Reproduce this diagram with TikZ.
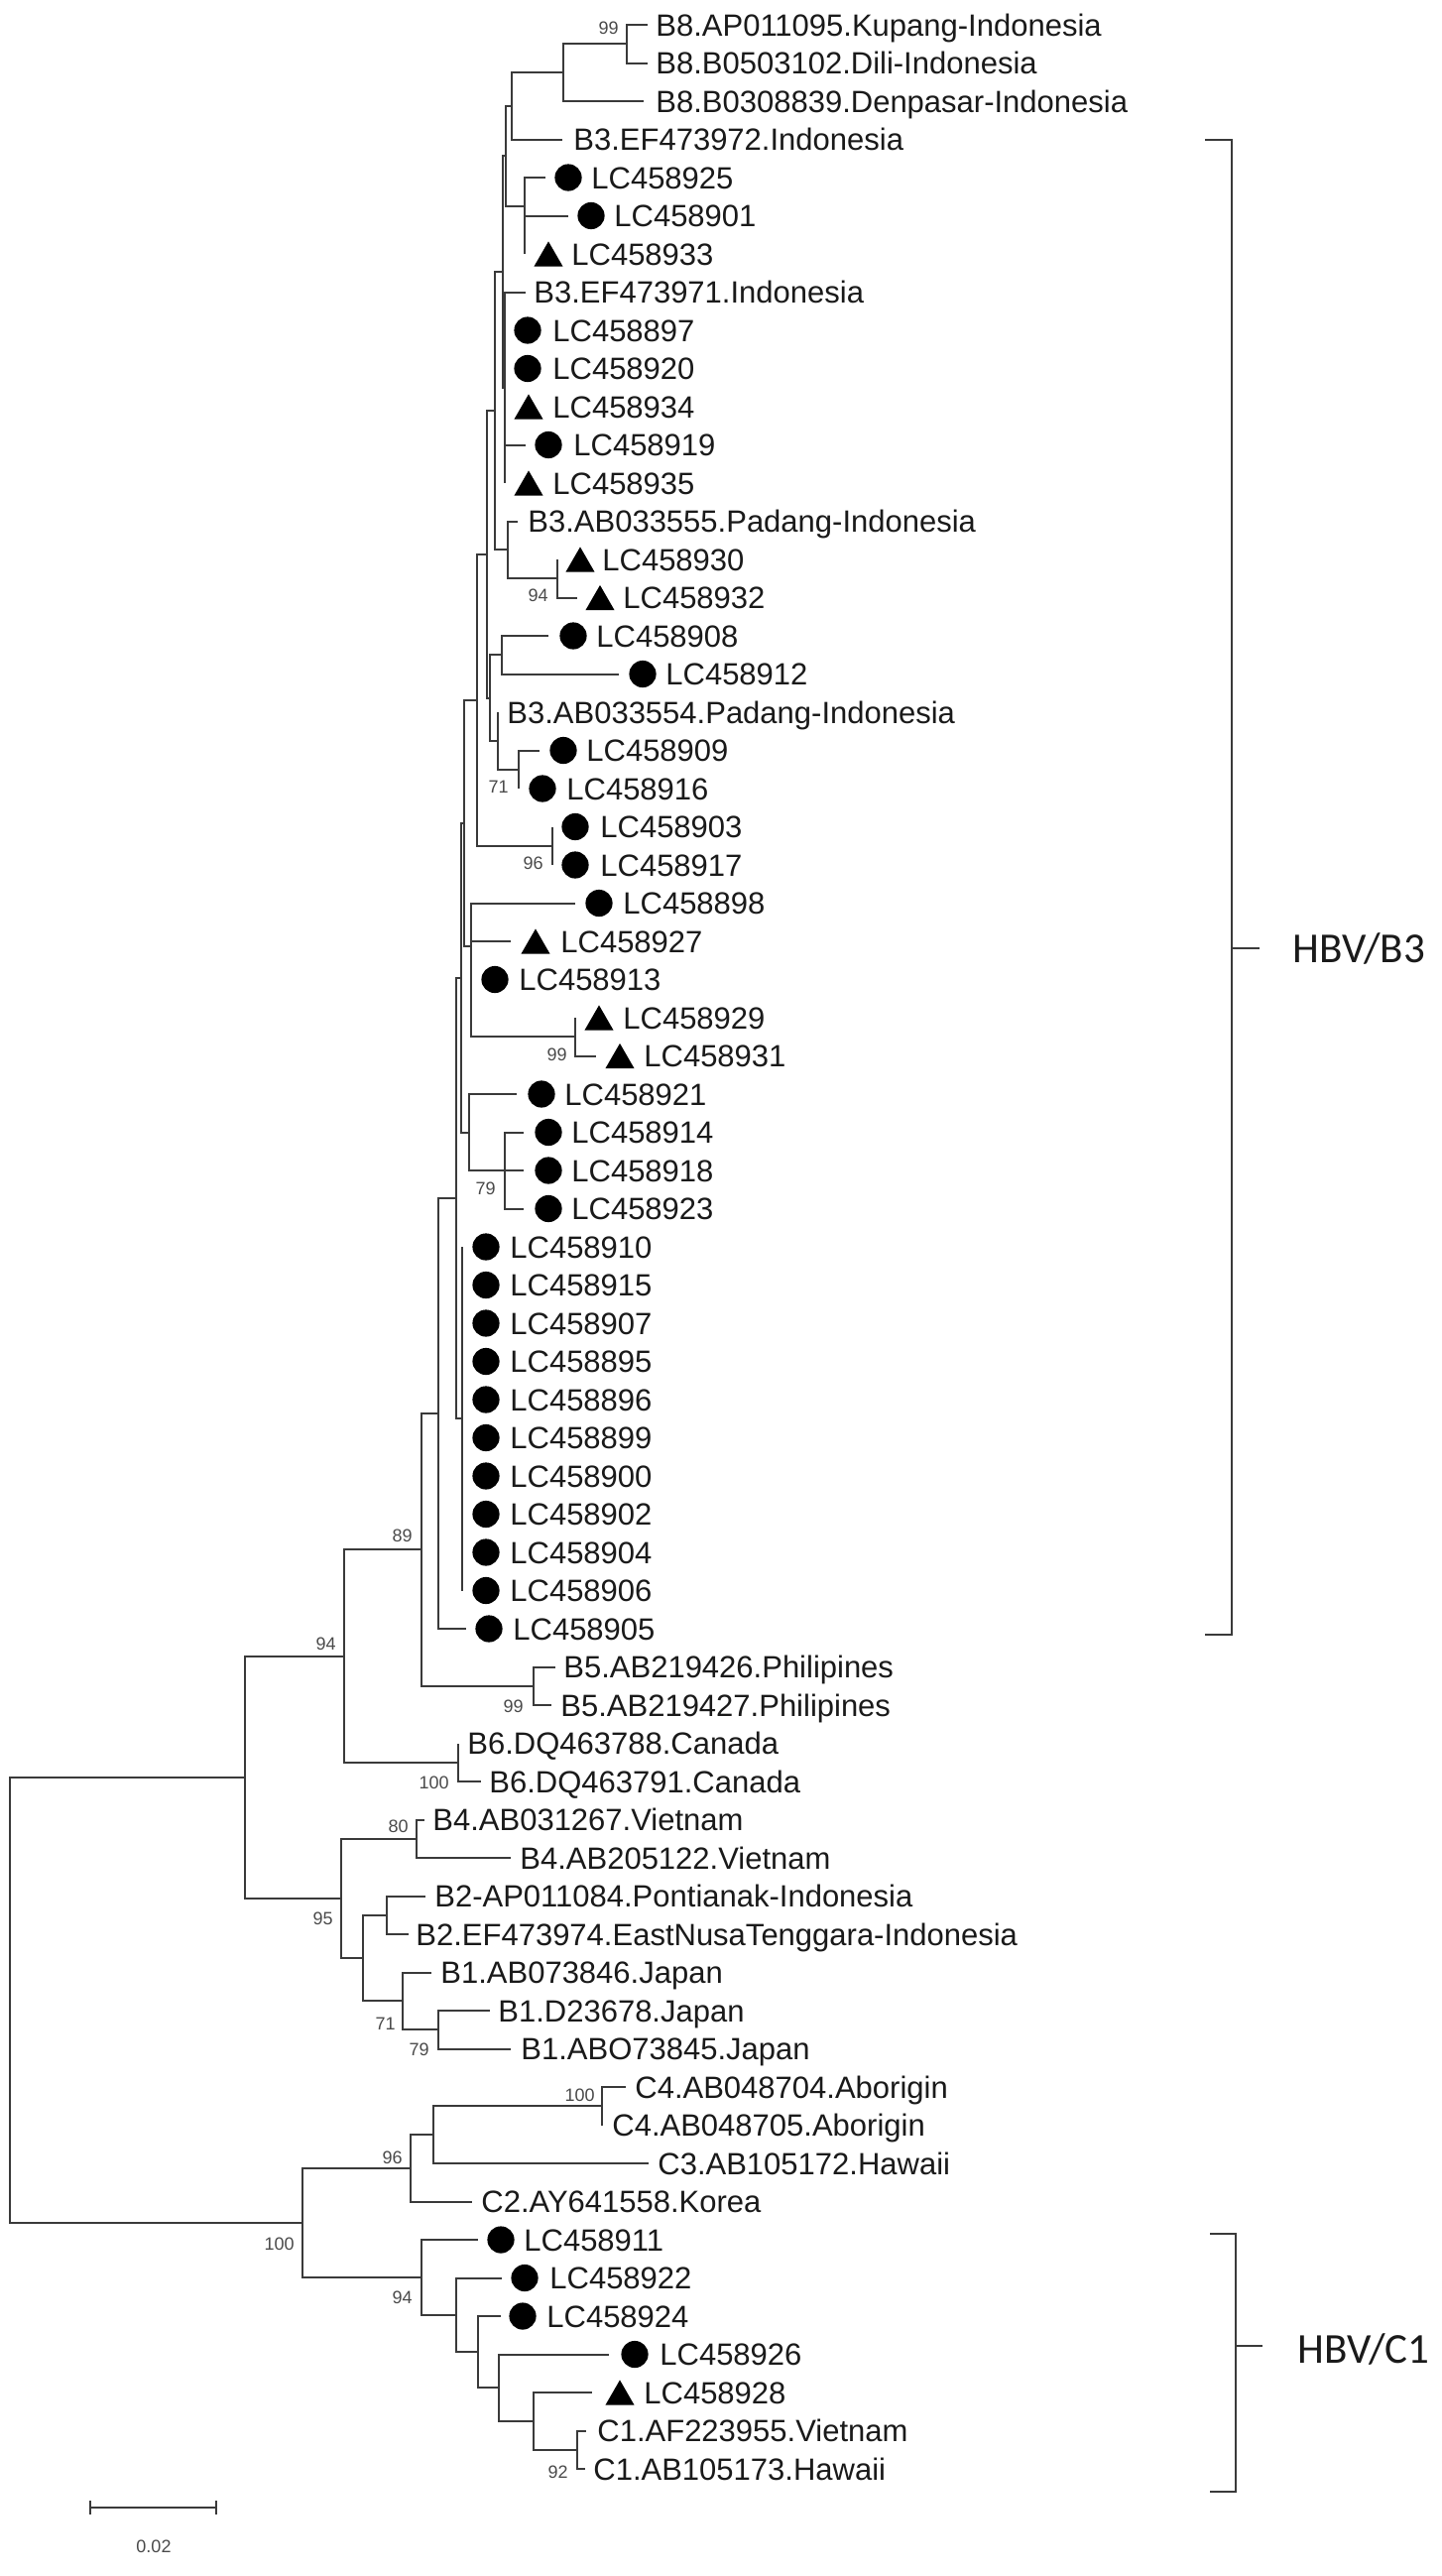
\documentclass[tikz,border=0pt]{standalone}
\usepackage{fontspec}
\setmainfont{Liberation Sans}
\newfontfamily\calib{Carlito}
\usetikzlibrary{shapes.geometric}
\definecolor{linegray}{HTML}{3A3A3A}
\definecolor{txt}{HTML}{1A1A1A}
\definecolor{bootc}{HTML}{4A4A4A}
\newcommand\leaff{\fontsize{15.5pt}{18pt}\selectfont}
\newcommand\bootf{\fontsize{9pt}{11pt}\selectfont}
\newcommand\cladef{\calib\fontsize{21.5pt}{26pt}\selectfont}
\newcommand\LfC[6]{\coordinate (e#1) at (#3,#2); \node[dot] (m#1) at (#4,#2) {}; \node[leaf] (t#1) at (#5,#2) {#6};}
\newcommand\LfT[6]{\coordinate (e#1) at (#3,#2); \node[tri] (m#1) at (#4,#2) {}; \node[leaf] (t#1) at (#5,#2) {#6};}
\newcommand\LfL[5]{\coordinate (e#1) at (#3,#2); \node[leaf] (t#1) at (#4,#2) {#5};}
\begin{document}
\begin{tikzpicture}[x=0.5pt,y=-0.5pt,
  br/.style={draw=linegray,line width=1pt},
  leaf/.style={font=\leaff,text=txt,anchor=west,inner sep=0pt,text height=11.1pt,text depth=0pt},
  boot/.style={font=\bootf,text=bootc,anchor=east,inner sep=0pt,text height=6.5pt,text depth=0pt},
  dot/.style={circle,fill=black,inner sep=0pt,minimum size=13.6pt},
  tri/.style={regular polygon,regular polygon sides=3,fill=black,inner sep=0pt,minimum size=16.8pt,yshift=-2.1pt},
  brk/.style={draw=linegray,line width=1.4pt},
  clade/.style={font=\cladef,text=txt,anchor=west,inner sep=0pt}]
\fill[white] (0,0) rectangle (1453,2597);
\useasboundingbox (0,0) rectangle (1453,2597);

% ---- internal nodes
\coordinate (root) at (10,2016.3);
\coordinate (nBr) at (247,1791.75);
\coordinate (n94) at (347,1669.6);
\coordinate (n89) at (425,1562.4);
\coordinate (nP) at (442,1425);
\coordinate (nQ) at (460,1207.95);
\coordinate (nS) at (465,985.65);
\coordinate (nM) at (468,829.8);
\coordinate (nK) at (481,705.8);
\coordinate (nJ) at (491,558.9);
\coordinate (nI) at (499,414.2);
\coordinate (nG) at (507,274.1);
\coordinate (nD) at (510,157.4);
\coordinate (nC) at (516,106.8);
\coordinate (nB) at (568,73.1);
\coordinate (nA) at (632,44.25);
\coordinate (nF) at (529,208);
\coordinate (nH) at (509,390.75);
\coordinate (nh) at (512,554.4);
\coordinate (n94a) at (562,583.25);
\coordinate (nN) at (494,703.6);
\coordinate (nL) at (506,660.25);
\coordinate (nO) at (502,746.9);
\coordinate (n71a) at (523,775.75);
\coordinate (n96a) at (557,852.75);
\coordinate (nV) at (475,953.8);
\coordinate (nV2) at (475,997.1);
\coordinate (nW) at (580,1045.25);
\coordinate (nT) at (473,1141.5);
\coordinate (nU) at (509,1180);
\coordinate (nR) at (466,1430.25);
\coordinate (nB5) at (538,1699.75);
\coordinate (nB6) at (462,1776.75);
\coordinate (n95) at (344,1913.9);
\coordinate (nB4) at (420,1853.75);
\coordinate (nB12) at (366,1974.1);
\coordinate (nB2) at (390,1930.75);
\coordinate (nB1) at (406,2017.4);
\coordinate (nB1s) at (442,2046.25);
\coordinate (nCr) at (305,2240.9);
\coordinate (n96C) at (414,2185.8);
\coordinate (nC43) at (437,2152.1);
\coordinate (nC4) at (607,2123.25);
\coordinate (n94C) at (425,2295.9);
\coordinate (nn1) at (460,2333.8);
\coordinate (nn2) at (482,2371.1);
\coordinate (nn3) at (503,2407.2);
\coordinate (nn4) at (538,2440.9);
\coordinate (nC1) at (582,2469.75);

% ---- leaves
\LfL{1}{25}{653}{661}{B8.AP011095.Kupang-Indonesia}
\LfL{2}{63.5}{653}{661}{B8.B0503102.Dili-Indonesia}
\LfL{3}{102}{649}{661}{B8.B0308839.Denpasar-Indonesia}
\LfL{4}{140.5}{567}{578}{B3.EF473972.Indonesia}
\LfC{5}{179}{550}{573}{596}{LC458925}
\LfC{6}{217.5}{573}{596}{619}{LC458901}
\LfT{7}{256}{529}{553}{576}{LC458933}
\LfL{8}{294.5}{530}{538}{B3.EF473971.Indonesia}
\LfC{9}{333}{509}{532}{557}{LC458897}
\LfC{10}{371.5}{509}{532}{557}{LC458920}
\LfT{11}{410}{509}{533}{557}{LC458934}
\LfC{12}{448.5}{530}{553}{578}{LC458919}
\LfT{13}{487}{509}{533}{557}{LC458935}
\LfL{14}{525.5}{522}{532}{B3.AB033555.Padang-Indonesia}
\LfT{15}{564}{562}{585}{607}{LC458930}
\LfT{16}{602.5}{582}{605}{628}{LC458932}
\LfC{17}{641}{553}{578}{601}{LC458908}
\LfC{18}{679.5}{624}{648}{671}{LC458912}
\LfL{19}{718}{502}{511}{B3.AB033554.Padang-Indonesia}
\LfC{20}{756.5}{544}{568}{591}{LC458909}
\LfC{21}{795}{523}{547}{571}{LC458916}
\LfC{22}{833.5}{557}{580}{605}{LC458903}
\LfC{23}{872}{557}{580}{605}{LC458917}
\LfC{24}{910.5}{580}{604}{628}{LC458898}
\LfT{25}{949}{515}{540}{565}{LC458927}
\LfC{26}{987.5}{475}{499}{523}{LC458913}
\LfT{27}{1026}{580}{604}{628}{LC458929}
\LfT{28}{1064.5}{601}{625}{649}{LC458931}
\LfC{29}{1103}{521}{546}{569}{LC458921}
\LfC{30}{1141.5}{528}{553}{576}{LC458914}
\LfC{31}{1180}{528}{553}{576}{LC458918}
\LfC{32}{1218.5}{528}{553}{576}{LC458923}
\LfC{33}{1257}{466}{490}{514}{LC458910}
\LfC{34}{1295.5}{466}{490}{514}{LC458915}
\LfC{35}{1334}{466}{490}{514}{LC458907}
\LfC{36}{1372.5}{466}{490}{514}{LC458895}
\LfC{37}{1411}{466}{490}{514}{LC458896}
\LfC{38}{1449.5}{466}{490}{514}{LC458899}
\LfC{39}{1488}{466}{490}{514}{LC458900}
\LfC{40}{1526.5}{466}{490}{514}{LC458902}
\LfC{41}{1565}{466}{490}{514}{LC458904}
\LfC{42}{1603.5}{466}{490}{514}{LC458906}
\LfC{43}{1642}{470}{493}{517}{LC458905}
\LfL{44}{1680.5}{560}{568}{B5.AB219426.Philipines}
\LfL{45}{1719}{556}{565}{B5.AB219427.Philipines}
\LfL{46}{1757.5}{462}{471}{B6.DQ463788.Canada}
\LfL{47}{1796}{485}{493}{B6.DQ463791.Canada}
\LfL{48}{1834.5}{428}{436}{B4.AB031267.Vietnam}
\LfL{49}{1873}{515}{524}{B4.AB205122.Vietnam}
\LfL{50}{1911.5}{429}{438}{B2-AP011084.Pontianak-Indonesia}
\LfL{51}{1950}{412}{419}{B2.EF473974.EastNusaTenggara-Indonesia}
\LfL{52}{1988.5}{435}{444}{B1.AB073846.Japan}
\LfL{53}{2027}{494}{502}{B1.D23678.Japan}
\LfL{54}{2065.5}{515}{525}{B1.ABO73845.Japan}
\LfL{55}{2104}{631}{640}{C4.AB048704.Aborigin}
\LfL{56}{2142.5}{607}{617}{C4.AB048705.Aborigin}
\LfL{57}{2181}{654}{663}{C3.AB105172.Hawaii}
\LfL{58}{2219.5}{476}{485}{C2.AY641558.Korea}
\LfC{59}{2258}{482}{505}{528}{LC458911}
\LfC{60}{2296.5}{506}{529}{554}{LC458922}
\LfC{61}{2335}{505}{527}{551}{LC458924}
\LfC{62}{2373.5}{614}{640}{665}{LC458926}
\LfT{63}{2412}{597}{625}{649}{LC458928}
\LfL{64}{2450.5}{591}{602}{C1.AF223955.Vietnam}
\LfL{65}{2489}{590}{598}{C1.AB105173.Hawaii}

% ---- branches
\draw[br] (root) |- (nBr); \draw[br] (root) |- (nCr);
\draw[br] (nBr) |- (n94); \draw[br] (nBr) |- (n95);
\draw[br] (n94) |- (n89); \draw[br] (n94) |- (nB6);
\draw[br] (n89) |- (nP); \draw[br] (n89) |- (nB5);
\draw[br] (nP) |- (nQ); \draw[br] (nP) |- (e43);
\draw[br] (nQ) |- (nS); \draw[br] (nQ) |- (nR);
\draw[br] (nS) |- (nM); \draw[br] (nS) |- (nT);
\draw[br] (nM) |- (nK); \draw[br] (nM) |- (nV);
\draw[br] (nK) |- (nJ); \draw[br] (nK) |- (n96a);
\draw[br] (nJ) |- (nI); \draw[br] (nJ) |- (nN);
\draw[br] (nI) |- (nG); \draw[br] (nI) |- (nh);
\draw[br] (nG) |- (nD); \draw[br] (nG) |- (nH);
\draw[br] (nD) |- (nC); \draw[br] (nD) |- (nF);
\draw[br] (nC) |- (nB); \draw[br] (nC) |- (e4);
\draw[br] (nB) |- (nA); \draw[br] (nB) |- (e3);
\draw[br] (nA) |- (e1); \draw[br] (nA) |- (e2);
\foreach \k in {5,6,7} {\draw[br] (nF) |- (e\k);}
\foreach \k in {8,...,13} {\draw[br] (nH) |- (e\k);}
\draw[br] (nh) |- (e14); \draw[br] (nh) |- (n94a);
\draw[br] (n94a) |- (e15); \draw[br] (n94a) |- (e16);
\draw[br] (nN) |- (nL); \draw[br] (nN) |- (nO);
\draw[br] (nL) |- (e17); \draw[br] (nL) |- (e18);
\draw[br] (nO) |- (e19); \draw[br] (nO) |- (n71a);
\draw[br] (n71a) |- (e20); \draw[br] (n71a) |- (e21);
\draw[br] (n96a) |- (e22); \draw[br] (n96a) |- (e23);
\draw[br] (nV) |- (e24); \draw[br] (nV) |- (nV2);
\draw[br] (nV2) |- (e25); \draw[br] (nV2) |- (e26); \draw[br] (nV2) |- (nW);
\draw[br] (nW) |- (e27); \draw[br] (nW) |- (e28);
\draw[br] (nT) |- (e29); \draw[br] (nT) |- (nU);
\foreach \k in {30,31,32} {\draw[br] (nU) |- (e\k);}
\foreach \k in {33,...,42} {\draw[br] (nR) |- (e\k);}
\draw[br] (nB5) |- (e44); \draw[br] (nB5) |- (e45);
\draw[br] (nB6) |- (e46); \draw[br] (nB6) |- (e47);
\draw[br] (n95) |- (nB4); \draw[br] (n95) |- (nB12);
\draw[br] (nB4) |- (e48); \draw[br] (nB4) |- (e49);
\draw[br] (nB12) |- (nB2); \draw[br] (nB12) |- (nB1);
\draw[br] (nB2) |- (e50); \draw[br] (nB2) |- (e51);
\draw[br] (nB1) |- (e52); \draw[br] (nB1) |- (nB1s);
\draw[br] (nB1s) |- (e53); \draw[br] (nB1s) |- (e54);
\draw[br] (nCr) |- (n96C); \draw[br] (nCr) |- (n94C);
\draw[br] (n96C) |- (nC43); \draw[br] (n96C) |- (e58);
\draw[br] (nC43) |- (nC4); \draw[br] (nC43) |- (e57);
\draw[br] (nC4) |- (e55); \draw[br] (nC4) |- (e56);
\draw[br] (n94C) |- (e59); \draw[br] (n94C) |- (nn1);
\draw[br] (nn1) |- (e60); \draw[br] (nn1) |- (nn2);
\draw[br] (nn2) |- (e61); \draw[br] (nn2) |- (nn3);
\draw[br] (nn3) |- (e62); \draw[br] (nn3) |- (nn4);
\draw[br] (nn4) |- (e63); \draw[br] (nn4) |- (nC1);
\draw[br] (nC1) |- (e64); \draw[br] (nC1) |- (e65);

% ---- bootstrap values
\node[boot] (bs1) at (624,28) {99};
\node[boot] (bs2) at (553,600) {94};
\node[boot] (bs3) at (513,793) {71};
\node[boot] (bs4) at (548,870) {96};
\node[boot] (bs5) at (572,1063) {99};
\node[boot] (bs6) at (500,1198) {79};
\node[boot] (bs7) at (416,1548) {89};
\node[boot] (bs8) at (339,1657) {94};
\node[boot] (bs9) at (528,1720) {99};
\node[boot] (bs10) at (453,1797) {100};
\node[boot] (bs11) at (412,1841) {80};
\node[boot] (bs12) at (336,1934) {95};
\node[boot] (bs13) at (399,2040) {71};
\node[boot] (bs14) at (433,2066) {79};
\node[boot] (bs15) at (600,2112) {100};
\node[boot] (bs16) at (406,2175) {96};
\node[boot] (bs17) at (297,2262) {100};
\node[boot] (bs18) at (416,2316) {94};
\node[boot] (bs19) at (573,2492) {92};

% ---- clade brackets
\coordinate (b3a) at (1215,141); \coordinate (b3b) at (1242,141);
\coordinate (b3c) at (1242,1648); \coordinate (b3d) at (1215,1648);
\coordinate (b3m) at (1242,956); \coordinate (b3t) at (1270,956);
\draw[brk] (b3a) -- (b3b) -- (b3c) -- (b3d);
\draw[brk] (b3m) -- (b3t);
\node[clade] (hbvb3) at (1303,956) {HBV/B3};
\coordinate (c1a) at (1220,2252); \coordinate (c1b) at (1246,2252);
\coordinate (c1c) at (1246,2512); \coordinate (c1d) at (1220,2512);
\coordinate (c1m) at (1246,2365); \coordinate (c1t) at (1273,2365);
\draw[brk] (c1a) -- (c1b) -- (c1c) -- (c1d);
\draw[brk] (c1m) -- (c1t);
\node[clade] (hbvc1) at (1308,2368) {HBV/C1};

% ---- scale bar
\coordinate (sb1) at (91,2528); \coordinate (sb2) at (218,2528);
\draw[br] (sb1) -- (sb2);
\draw[br] ([yshift=3.5pt]sb1) -- ([yshift=-3.5pt]sb1);
\draw[br] ([yshift=3.5pt]sb2) -- ([yshift=-3.5pt]sb2);
\node[font=\bootf,text=bootc,inner sep=0pt] (sbl) at (155,2567) {0.02};
\end{tikzpicture}
\end{document}
